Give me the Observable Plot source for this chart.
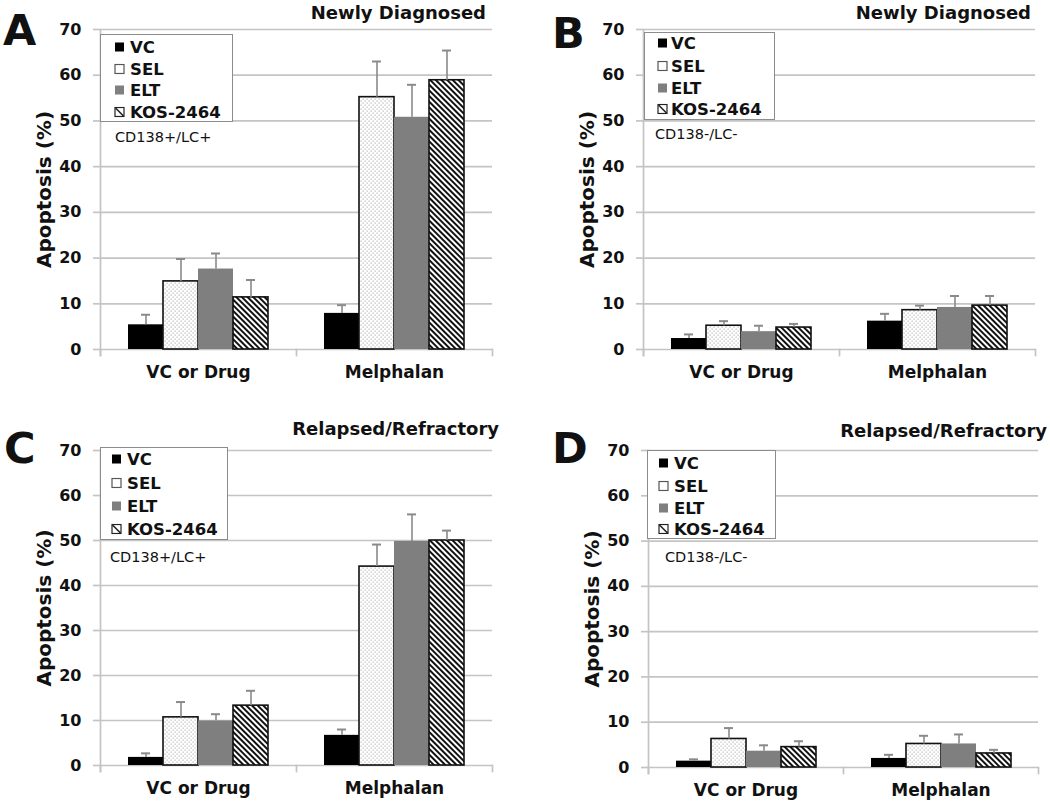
<!DOCTYPE html>
<html>
<head>
<meta charset="utf-8">
<script src="https://cdn.jsdelivr.net/npm/d3@7"></script>
<script src="https://cdn.jsdelivr.net/npm/@observablehq/plot@0.6"></script>
<style>
  html, body { margin: 0; padding: 0; background: #fff; }
  #page { position: relative; width: 1050px; height: 802px; overflow: hidden; font-family: "DejaVu Sans", sans-serif; }
  .abs { position: absolute; white-space: nowrap; line-height: 1; }
  .letter { font-weight: bold; font-size: 43px; color: #111; }
  .title { font-weight: bold; font-size: 18px; color: #111; }
  .note { font-size: 14.5px; color: #111; }
  .legend { position: absolute; border: 1.5px solid #8c8c8c; background: #fff; box-sizing: border-box; }
  .item { position: absolute; display: flex; align-items: center; transform: translateY(-50%); font-weight: bold; font-size: 16.5px; color: #111; }
  .item svg { display: block; }
</style>
</head>
<body>
<svg width="0" height="0" style="position:absolute">
  <defs>
    <pattern id="dots" patternUnits="userSpaceOnUse" width="4" height="4">
      <rect width="4" height="4" fill="#ffffff"></rect>
      <rect x="0.5" y="0.5" width="1.2" height="1.2" fill="#b3b3b3"></rect>
      <rect x="2.5" y="2.5" width="1.2" height="1.2" fill="#b3b3b3"></rect>
    </pattern>
    <pattern id="stripes" patternUnits="userSpaceOnUse" width="4" height="4" patternTransform="rotate(-45)">
      <rect width="4" height="4" fill="#ffffff"></rect>
      <rect width="2" height="4" fill="#111111"></rect>
    </pattern>
  </defs>
</svg>
<div id="page"></div>
<script>
// ---------- data ----------
const categories = ["VC or Drug", "Melphalan"];
const series = ["VC", "SEL", "ELT", "KOS-2464"];
const yTicks = [0, 10, 20, 30, 40, 50, 60, 70];
const yLabel = "Apoptosis (%)";
const panelLetters = ["A", "B", "C", "D"];
const panelTitles = ["Newly Diagnosed", "Newly Diagnosed", "Relapsed/Refractory", "Relapsed/Refractory"];
const panelNotes = ["CD138+/LC+", "CD138-/LC-", "CD138+/LC+", "CD138-/LC-"];

// mean apoptosis (%) per category [VC or Drug, Melphalan], series order VC, SEL, ELT, KOS-2464
const meanA = [[5.4, 14.9, 17.6, 11.4], [7.9, 55.2, 50.8, 58.9]];
const errA  = [[2.2, 4.9, 3.4, 3.8],   [1.8, 7.8, 7.1, 6.5]];
const meanB = [[2.4, 5.2, 3.9, 4.8],   [6.2, 8.6, 9.2, 9.6]];
const errB  = [[0.9, 1.0, 1.3, 0.8],   [1.6, 1.0, 2.5, 2.1]];
const meanC = [[1.8, 10.7, 9.9, 13.3], [6.7, 44.2, 49.8, 50.0]];
const errC  = [[0.9, 3.4, 1.5, 3.3],   [1.3, 4.9, 6.0, 2.2]];
const meanD = [[1.4, 6.3, 3.6, 4.5],   [2.0, 5.2, 5.2, 3.1]];
const errD  = [[0.4, 2.4, 1.3, 1.3],   [0.8, 1.8, 2.1, 0.8]];

const means = [meanA, meanB, meanC, meanD];
const errs = [errA, errB, errC, errD];

// ---------- styles ----------
const fills = {"VC": "#000000", "SEL": "url(#dots)", "ELT": "#7f7f7f", "KOS-2464": "url(#stripes)"};
const strokes = {"VC": "none", "SEL": "#111111", "ELT": "none", "KOS-2464": "#111111"};
const gridColor = "#c4c4c4";
const errColor = "#8a8a8a";

// ---------- layout (page pixels) ----------
const layout = [
  {frame: {l: 100, t: 29, r: 492, b: 349}, letter: {x: 3, y: 45}, title: {r: 486, y: 19}, note: {x: 115, y: 142.5},
   legend: {l: 100, t: 34, w: 133, h: 88, sx: 114, tx: 129, ys: [46, 67.7, 88.5, 110.7]}},
  {frame: {l: 643, t: 29, r: 1035, b: 349}, letter: {x: 552, y: 48}, title: {r: 1031, y: 19}, note: {x: 655, y: 139},
   legend: {l: 644, t: 32, w: 131, h: 88, sx: 657, tx: 670, ys: [41.7, 65, 87.3, 108.3]}},
  {frame: {l: 100, t: 450, r: 492, b: 765}, letter: {x: 4, y: 463}, title: {r: 499, y: 435}, note: {x: 110, y: 562.5},
   legend: {l: 100, t: 447, w: 128, h: 93, sx: 111, tx: 126, ys: [458.3, 481.7, 505, 528.3]}},
  {frame: {l: 647, t: 450, r: 1038, b: 767}, letter: {x: 552, y: 463}, title: {r: 1047, y: 437}, note: {x: 665, y: 562},
   legend: {l: 647, t: 450, w: 129, h: 89, sx: 658, tx: 673, ys: [461.7, 485, 506.7, 528.3]}}
];

const page = document.getElementById("page");
const ML = 100, MR = 10, MT = 29, MB = 36;

function rowsFor(mean, err) {
  const rows = [];
  categories.forEach((c, i) => series.forEach((s, j) => rows.push({cat: c, series: s, mean: mean[i][j], err: err[i][j]})));
  return rows;
}

function baselineTop(y, size) { return y - 0.846 * size; }

function swatch(s) {
  const ns = "http://www.w3.org/2000/svg";
  const svg = document.createElementNS(ns, "svg");
  svg.setAttribute("width", 11); svg.setAttribute("height", 11);
  const r = document.createElementNS(ns, "rect");
  r.setAttribute("x", 1); r.setAttribute("y", 1); r.setAttribute("width", 9); r.setAttribute("height", 9);
  if (s === "VC") { r.setAttribute("fill", "#000"); }
  else if (s === "SEL") { r.setAttribute("fill", "#fff"); r.setAttribute("stroke", "#555"); r.setAttribute("stroke-width", 1.2); }
  else if (s === "ELT") { r.setAttribute("fill", "#7f7f7f"); }
  else { r.setAttribute("fill", "#fff"); r.setAttribute("stroke", "#222"); r.setAttribute("stroke-width", 1.2); }
  svg.appendChild(r);
  if (s === "KOS-2464") {
    const l = document.createElementNS(ns, "line");
    l.setAttribute("x1", 1.5); l.setAttribute("y1", 1.5); l.setAttribute("x2", 9.5); l.setAttribute("y2", 9.5);
    l.setAttribute("stroke", "#222"); l.setAttribute("stroke-width", 1.6);
    svg.appendChild(l);
  }
  return svg;
}

layout.forEach((L, p) => {
  const f = L.frame;
  const plotW = f.r - f.l, plotH = f.b - f.t;
  const rows = rowsFor(means[p], errs[p]);
  const chart = Plot.plot({
    width: plotW + ML + MR,
    height: plotH + MT + MB,
    marginLeft: ML, marginRight: MR, marginTop: MT, marginBottom: MB,
    style: {fontFamily: "DejaVu Sans", background: "transparent", overflow: "visible", color: "#111"},
    fx: {domain: categories, padding: 0, label: null},
    x: {domain: series, paddingInner: 0, paddingOuter: 0.74, axis: null},
    y: {domain: [0, 70], axis: null},
    color: {type: "identity"},
    marks: [
      Plot.gridY(yTicks, {stroke: gridColor, strokeOpacity: 1, strokeWidth: 1.7}),
      Plot.frame({anchor: "left", facetAnchor: "left", stroke: gridColor, strokeWidth: 1.7, insetBottom: -6}),
      Plot.frame({anchor: "left", stroke: gridColor, strokeWidth: 1.7, insetTop: plotH, insetBottom: -6}),
      Plot.frame({anchor: "right", facetAnchor: "right", stroke: gridColor, strokeWidth: 1.7, insetTop: plotH, insetBottom: -6}),
      Plot.barY(rows, {fx: "cat", x: "series", y: "mean", fill: d => fills[d.series], stroke: d => strokes[d.series], strokeWidth: 1.6}),
      Plot.ruleX(rows, {fx: "cat", x: "series", y1: "mean", y2: d => d.mean + d.err, stroke: errColor, strokeWidth: 1.6}),
      Plot.tickY(rows, {fx: "cat", x: "series", y: d => d.mean + d.err, stroke: errColor, strokeWidth: 2, insetLeft: 13, insetRight: 13}),
      Plot.axisY(yTicks, {tickSize: 7, tickPadding: 12, stroke: gridColor, strokeWidth: 1.7, fill: "#111", fontSize: 16, fontWeight: "bold", label: null}),
      Plot.axisFx({anchor: "bottom", tickSize: 0, tickPadding: 16, fontSize: 17, fontWeight: "bold", fill: "#111", label: null}),
      Plot.text([yLabel], {frameAnchor: "left", facetAnchor: "left", rotate: -90, dx: -50, lineAnchor: "bottom", textAnchor: "middle", fontSize: 20, fontWeight: "bold", fill: "#111"})
    ]
  });
  chart.style.position = "absolute";
  chart.style.left = (f.l - ML) + "px";
  chart.style.top = (f.t - MT) + "px";
  page.appendChild(chart);

  // panel letter
  const letter = document.createElement("div");
  letter.className = "abs letter";
  letter.textContent = panelLetters[p];
  letter.style.left = L.letter.x + "px";
  letter.style.top = baselineTop(L.letter.y, 43) + "px";
  page.appendChild(letter);

  // title (right aligned)
  const title = document.createElement("div");
  title.className = "abs title";
  title.textContent = panelTitles[p];
  title.style.right = (1050 - L.title.r) + "px";
  title.style.top = baselineTop(L.title.y, 18) + "px";
  page.appendChild(title);

  // legend
  const lg = document.createElement("div");
  lg.className = "legend";
  lg.style.left = L.legend.l + "px";
  lg.style.top = L.legend.t + "px";
  lg.style.width = L.legend.w + "px";
  lg.style.height = L.legend.h + "px";
  page.appendChild(lg);
  series.forEach((s, j) => {
    const it = document.createElement("div");
    it.className = "item";
    it.style.left = (L.legend.sx - 1 - L.legend.l) + "px";
    it.style.top = (L.legend.ys[j] - L.legend.t) + "px";
    const sw = swatch(s);
    sw.style.marginRight = (L.legend.tx - L.legend.sx - 10) + "px";
    it.appendChild(sw);
    const t = document.createElement("span");
    t.textContent = s;
    it.appendChild(t);
    lg.appendChild(it);
  });

  // note
  const note = document.createElement("div");
  note.className = "abs note";
  note.textContent = panelNotes[p];
  note.style.left = L.note.x + "px";
  note.style.top = baselineTop(L.note.y, 14.5) + "px";
  page.appendChild(note);
});
</script>
</body>
</html>
